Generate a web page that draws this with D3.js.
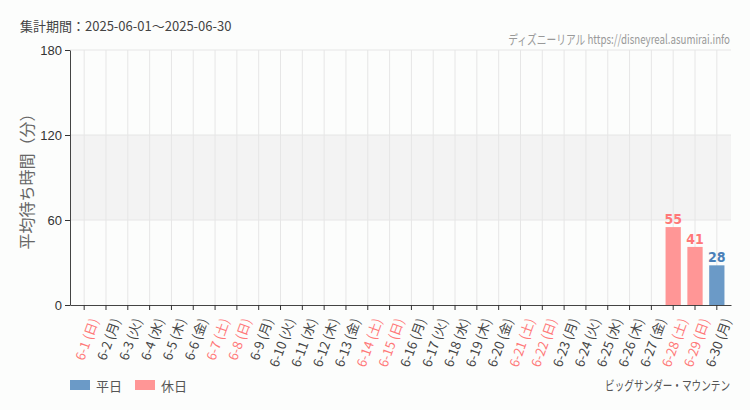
<html>
  <head>
    <meta charset="utf-8">
    <script src="https://cdn.jsdelivr.net/npm/d3@7"></script>
    <style>
      body { margin: 0; background-color: #fcfdfc; }
      text { font-family: "Noto Sans CJK JP", "Noto Sans", sans-serif; }
    </style>
  </head>
  <body>
    <script>
      // 集計期間 2025-06
      const days = ["6-1","6-2","6-3","6-4","6-5","6-6","6-7","6-8","6-9","6-10",
                    "6-11","6-12","6-13","6-14","6-15","6-16","6-17","6-18","6-19","6-20",
                    "6-21","6-22","6-23","6-24","6-25","6-26","6-27","6-28","6-29","6-30"];
      const weekdays = ["日","月","火","水","木","金","土","日","月","火",
                        "水","木","金","土","日","月","火","水","木","金",
                        "土","日","月","火","水","木","金","土","日","月"];
      const holiday = [1,0,0,0,0,0,1,1,0,0, 0,0,0,1,1,0,0,0,0,0, 1,1,0,0,0,0,0,1,1,0];
      const waits = [null,null,null,null,null,null,null,null,null,null,
                     null,null,null,null,null,null,null,null,null,null,
                     null,null,null,null,null,null,null,55,41,28];
      const yTicks = [0, 60, 120, 180];

      const width = 750, height = 410;
      const mLeft = 70, mRight = 731, mTop = 50, mBottom = 305;

      const blue = "#6b9ac7", pink = "#ff9696";
      const blueText = "#4a80b8", pinkText = "#ff7878";

      const svg = d3.select("body").append("svg")
          .attr("width", width)
          .attr("height", height)
          .style("background", "#fcfdfc");

      const x = d3.scaleBand().domain(days).range([mLeft, mRight]).padding(0.3);
      const y = d3.scaleLinear().domain([0, 180]).range([mBottom, mTop]);

      // 60-120 band
      svg.append("rect")
          .attr("x", mLeft).attr("width", mRight - mLeft)
          .attr("y", y(120)).attr("height", y(60) - y(120))
          .attr("fill", "#f3f3f3");

      // grid
      svg.append("g").selectAll("line").data(days).join("line")
          .attr("x1", d => x(d) + x.bandwidth() / 2)
          .attr("x2", d => x(d) + x.bandwidth() / 2)
          .attr("y1", mTop).attr("y2", mBottom)
          .attr("stroke", "#e6e6e6");
      svg.append("g").selectAll("line").data(yTicks.slice(1)).join("line")
          .attr("x1", mLeft).attr("x2", mRight)
          .attr("y1", d => y(d)).attr("y2", d => y(d))
          .attr("stroke", "#e6e6e6");

      // bars
      const rows = days.map((d, i) => ({ day: d, v: waits[i], hol: holiday[i] }))
          .filter(r => r.v != null);
      svg.append("g").selectAll("rect").data(rows).join("rect")
          .attr("x", d => x(d.day))
          .attr("width", x.bandwidth())
          .attr("y", d => y(d.v))
          .attr("height", d => y(0) - y(d.v))
          .attr("fill", d => d.hol ? pink : blue);
      svg.append("g").selectAll("text").data(rows).join("text")
          .attr("x", d => x(d.day) + x.bandwidth() / 2)
          .attr("y", d => y(d.v) - 3)
          .attr("text-anchor", "middle")
          .style("font-family", "'DejaVu Sans Condensed', sans-serif")
          .style("font-size", "14px")
          .style("font-weight", "bold")
          .attr("fill", d => d.hol ? pinkText : blueText)
          .text(d => d.v);

      // y axis
      const yAxis = svg.append("g")
          .attr("transform", `translate(${mLeft},0)`)
          .call(d3.axisLeft(y).tickValues(yTicks).tickSize(5).tickSizeOuter(0));
      yAxis.select(".domain").attr("stroke", "#444");
      yAxis.selectAll(".tick line").attr("stroke", "#333");
      yAxis.selectAll("text")
          .style("font-family", "'Liberation Sans', sans-serif")
          .style("font-size", "13px")
          .attr("fill", "#333");

      // x axis
      const xAxis = svg.append("g")
          .attr("transform", `translate(0,${mBottom})`)
          .call(d3.axisBottom(x).tickSize(5).tickSizeOuter(0));
      xAxis.select(".domain").attr("stroke", "#444");
      xAxis.selectAll(".tick line").attr("stroke", "#333");
      xAxis.selectAll(".tick text")
          .text((d, i) => `${d} (${weekdays[i]})`)
          .attr("fill", (d, i) => holiday[i] ? pinkText : "#444")
          .style("font-size", "13px")
          .attr("text-anchor", "end")
          .attr("dy", "0.35em")
          .attr("transform", "translate(3,11) rotate(-70)");

      // y title
      svg.append("text")
          .attr("transform", `translate(33,${(mTop + mBottom) / 2}) rotate(-90)`)
          .attr("text-anchor", "middle")
          .style("font-size", "16px")
          .attr("fill", "#666")
          .text("平均待ち時間（分）");

      // header
      svg.append("text")
          .attr("x", 20).attr("y", 31)
          .style("font-size", "13px")
          .attr("fill", "#444")
          .text("集計期間：2025-06-01～2025-06-30");

      // squeeze a right-aligned text horizontally to a given width
      function narrowText(tx, ty, w, size, color, str) {
          const g = svg.append("g");
          const t = g.append("text")
              .attr("text-anchor", "end")
              .style("font-size", size + "px")
              .attr("fill", color)
              .text(str);
          const sx = Math.min(1, w / t.node().getComputedTextLength());
          g.attr("transform", `translate(${tx},${ty}) scale(${sx},1)`);
      }
      narrowText(730, 44, 222, 13, "#999", "ディズニーリアル https://disneyreal.asumirai.info");

      // legend
      const legend = [{ name: "平日", color: blue }, { name: "休日", color: pink }];
      const lg = svg.append("g").selectAll("g").data(legend).join("g")
          .attr("transform", (d, i) => `translate(${70 + i * 65},380)`);
      lg.append("rect").attr("width", 20).attr("height", 10).attr("fill", d => d.color);
      lg.append("text").attr("x", 26).attr("y", 10.5)
          .style("font-size", "13px").attr("fill", "#555")
          .text(d => d.name);

      narrowText(730, 390, 125, 13, "#555", "ビッグサンダー・マウンテン");
    </script>
  </body>
</html>
